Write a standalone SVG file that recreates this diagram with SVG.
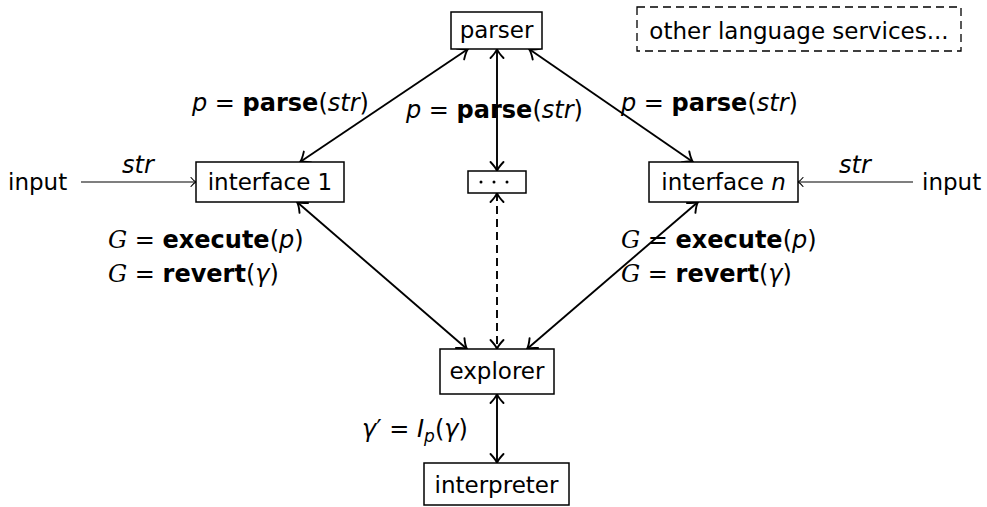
<svg xmlns="http://www.w3.org/2000/svg" width="987" height="507" viewBox="0 0 987 507">
<style>
.box{fill:#fff;stroke:#000;stroke-width:1.5}
.dbox{fill:none;stroke:#000;stroke-width:1.3;stroke-dasharray:8 5}
.nt{font-family:"DejaVu Sans",sans-serif;font-size:23px;fill:#000}
.lb{font-family:"DejaVu Sans",sans-serif;font-size:24px;fill:#000}
.it{font-style:italic}
.bf{font-weight:bold}
.cal{font-family:"DejaVu Serif",serif;font-style:italic}
.e{fill:none;stroke:#000;stroke-width:1.9}
.thin{fill:none;stroke:#000;stroke-width:1.1}
.dash{stroke-dasharray:8 5}
.head{fill:none;stroke:#000;stroke-width:1.9;stroke-dasharray:none;stroke-linecap:round}
.shead{fill:none;stroke:#000;stroke-width:1.1;stroke-dasharray:none;stroke-linecap:round}
</style>
<defs>
<marker id="ah" markerUnits="userSpaceOnUse" viewBox="-12 -8 14 16" refX="0" refY="0" markerWidth="14" markerHeight="16" orient="auto-start-reverse" overflow="visible">
<path class="head" d="M -9 -6.5 Q -3.5 -1.2 0 0 Q -3.5 1.2 -9 6.5"/>
</marker>
<marker id="sh" markerUnits="userSpaceOnUse" viewBox="-10 -7 12 14" refX="0" refY="0" markerWidth="12" markerHeight="14" orient="auto" overflow="visible">
<path class="shead" d="M -5 -4.5 Q -2 -0.8 0 0 Q -2 0.8 -5 4.5"/>
</marker>
</defs>

<g id="connectors">
<line class="e" x1="468" y1="49" x2="300" y2="162" marker-start="url(#ah)" marker-end="url(#ah)"/>
<line class="e" x1="497" y1="49" x2="497" y2="171" marker-start="url(#ah)" marker-end="url(#ah)"/>
<line class="e" x1="529" y1="49" x2="693" y2="162" marker-start="url(#ah)" marker-end="url(#ah)"/>
<line class="e" x1="297" y1="202" x2="467" y2="349" marker-start="url(#ah)" marker-end="url(#ah)"/>
<line class="e dash" x1="497" y1="193" x2="497" y2="349" marker-start="url(#ah)" marker-end="url(#ah)"/>
<line class="e" x1="698" y1="202" x2="527" y2="349" marker-start="url(#ah)" marker-end="url(#ah)"/>
<line class="e" x1="497" y1="394" x2="497" y2="463" marker-start="url(#ah)" marker-end="url(#ah)"/>
<line class="thin" x1="81" y1="182" x2="196" y2="182" marker-end="url(#sh)"/>
<line class="thin" x1="913" y1="182" x2="798" y2="182" marker-end="url(#sh)"/>
<text class="lb it" x="138" y="173" text-anchor="middle">str</text>
<text class="lb it" x="855" y="173" text-anchor="middle">str</text>
<text class="lb" x="192" y="111"><tspan class="it">p</tspan> = <tspan class="bf">parse</tspan>(<tspan class="it">str</tspan>)</text>
<text class="lb" x="406" y="118"><tspan class="it">p</tspan> = <tspan class="bf">parse</tspan>(<tspan class="it">str</tspan>)</text>
<text class="lb" x="621" y="111"><tspan class="it">p</tspan> = <tspan class="bf">parse</tspan>(<tspan class="it">str</tspan>)</text>
<text class="lb" x="108" y="248"><tspan class="cal">G</tspan> = <tspan class="bf">execute</tspan>(<tspan class="it">p</tspan>)</text>
<text class="lb" x="108" y="282"><tspan class="cal">G</tspan> = <tspan class="bf">revert</tspan>(<tspan class="it">γ</tspan>)</text>
<text class="lb" x="621" y="248"><tspan class="cal">G</tspan> = <tspan class="bf">execute</tspan>(<tspan class="it">p</tspan>)</text>
<text class="lb" x="621" y="282"><tspan class="cal">G</tspan> = <tspan class="bf">revert</tspan>(<tspan class="it">γ</tspan>)</text>
<text class="lb" x="362" y="437"><tspan class="it">γ</tspan>′ = <tspan class="it">I</tspan><tspan class="it" font-size="17" dy="5">p</tspan><tspan dy="-5">(</tspan><tspan class="it">γ</tspan>)</text>
</g>

<g id="parser">
<rect class="box" x="451" y="12" width="91" height="37"/>
<text class="nt" x="496.5" y="38" text-anchor="middle">parser</text>
</g>
<g id="other-services">
<rect class="dbox" x="637" y="7" width="324" height="44"/>
<text class="nt" x="799" y="39" text-anchor="middle">other language services...</text>
</g>
<g id="input-left">
<text class="nt" x="8" y="190">input</text>
</g>
<g id="input-right">
<text class="nt" x="922" y="190">input</text>
</g>
<g id="interface1">
<rect class="box" x="196" y="162" width="148" height="40"/>
<text class="nt" x="270" y="190" text-anchor="middle">interface 1</text>
</g>
<g id="dots">
<rect class="box" x="468" y="171" width="58" height="22"/>
<circle cx="481" cy="182" r="1.5"/><circle cx="494" cy="182" r="1.5"/><circle cx="507" cy="182" r="1.5"/>
</g>
<g id="interfacen">
<rect class="box" x="649" y="162" width="149" height="40"/>
<text class="nt" x="723.5" y="190" text-anchor="middle">interface <tspan class="it">n</tspan></text>
</g>
<g id="explorer">
<rect class="box" x="440" y="349" width="114" height="45"/>
<text class="nt" x="497" y="379" text-anchor="middle">explorer</text>
</g>
<g id="interpreter">
<rect class="box" x="424" y="463" width="145" height="42"/>
<text class="nt" x="496.5" y="493" text-anchor="middle">interpreter</text>
</g>
</svg>
